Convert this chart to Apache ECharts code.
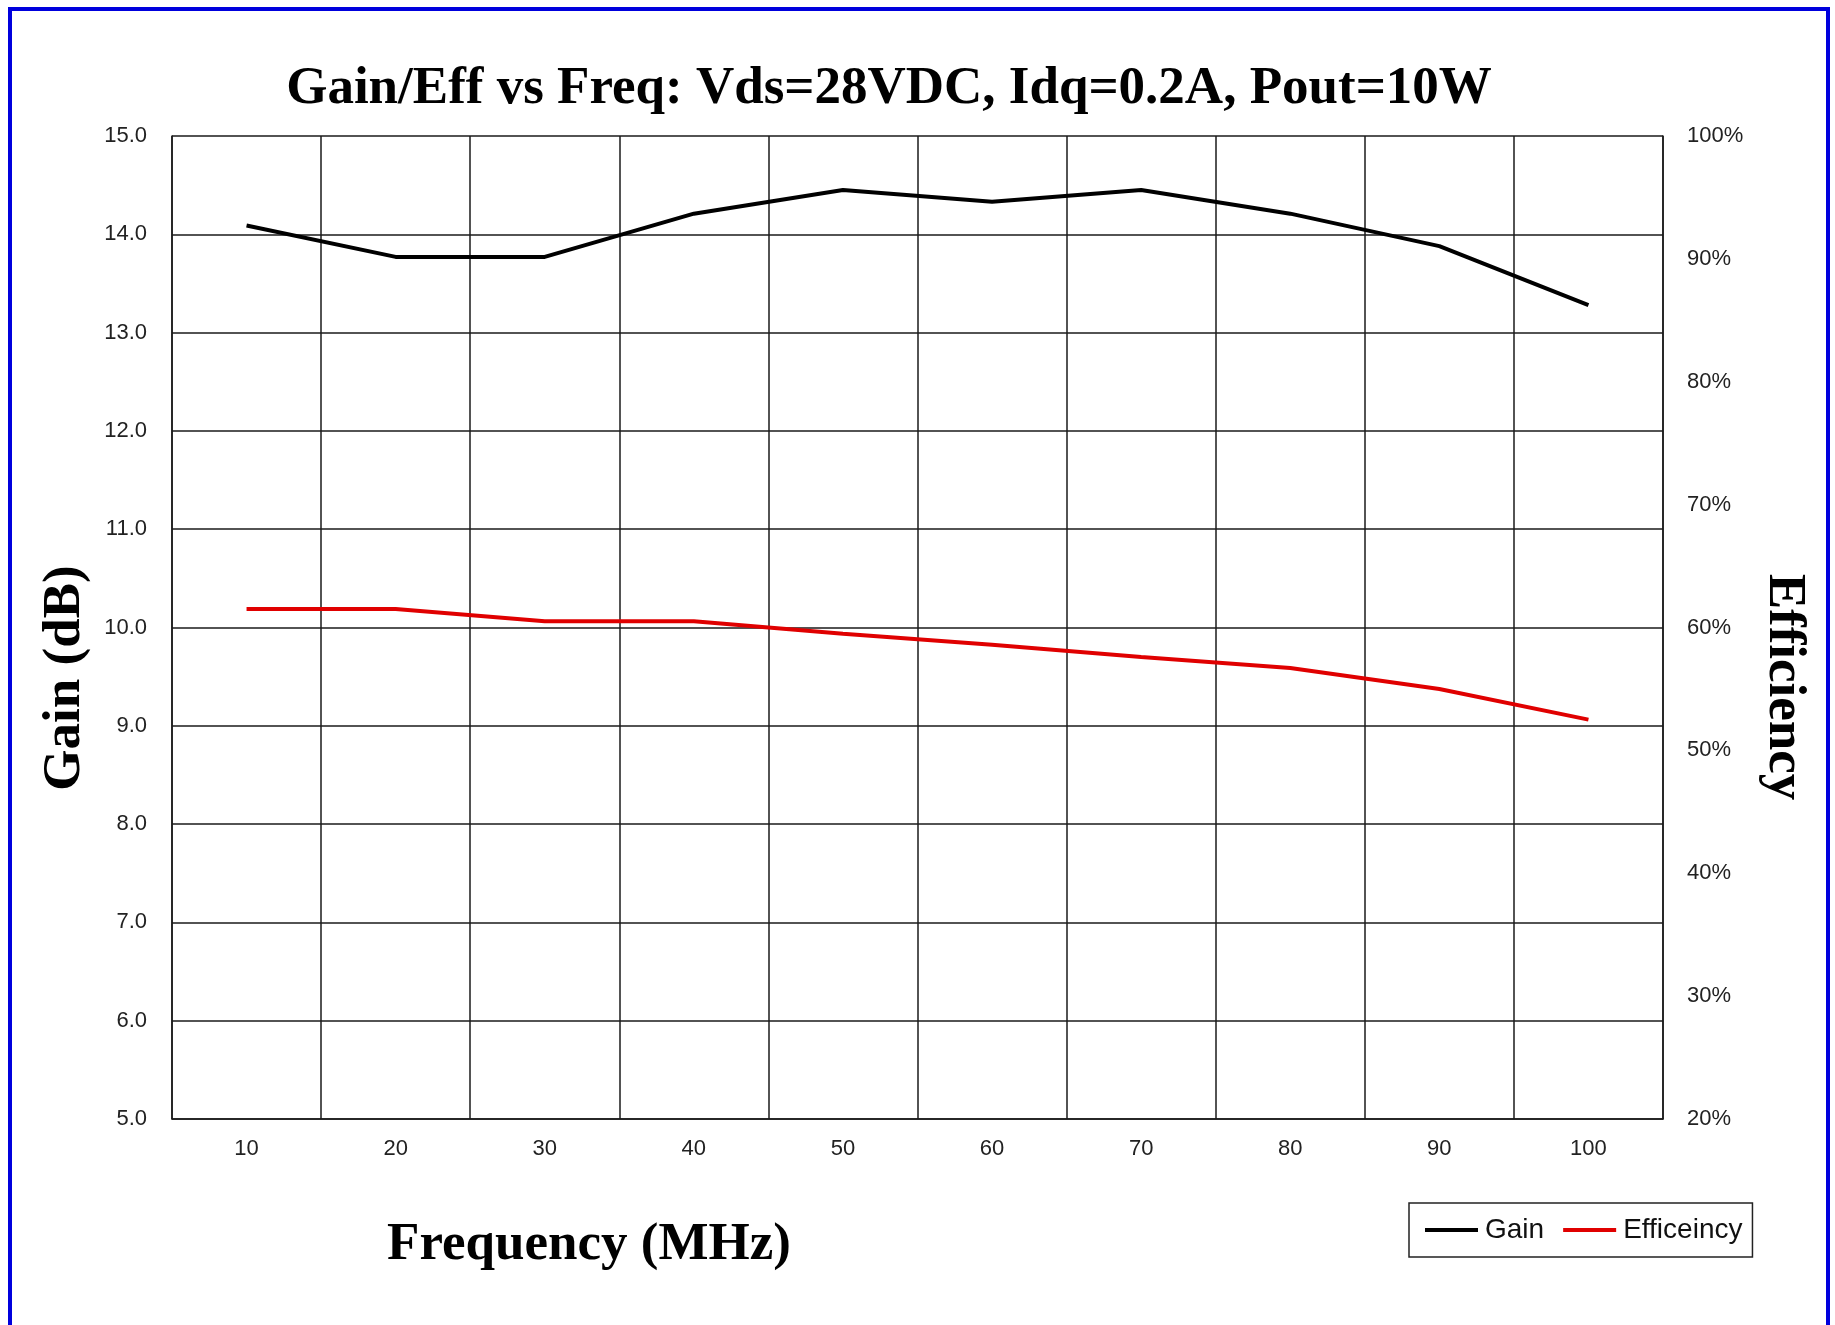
<!DOCTYPE html>
<html>
<head>
<meta charset="utf-8">
<script src="https://cdn.jsdelivr.net/npm/echarts@6/dist/echarts.min.js"></script>
<style>
html,body{margin:0;padding:0;background:#fff;}
#chart{width:1835px;height:1325px;}
</style>
</head>
<body>
<div id="chart"></div>
<script>
var frequencies = ['10','20','30','40','50','60','70','80','90','100'];
var gainDb = [14.09, 13.77, 13.77, 14.21, 14.45, 14.33, 14.45, 14.21, 13.88, 13.28];
var efficiencyPct = [61.5, 61.5, 60.5, 60.5, 59.5, 58.6, 57.6, 56.7, 55.0, 52.5];
var titleText = 'Gain/Eff vs Freq: Vds=28VDC, Idq=0.2A, Pout=10W';
var xName = 'Frequency (MHz)';
var yLeftName = 'Gain (dB)';
var yRightName = 'Efficiency';
var seriesNames = ['Gain', 'Efficeincy'];

var chart = echarts.init(document.getElementById('chart'), null, {renderer:'canvas'});
var gridColor = '#1a1a1a';
var labelFont = {fontFamily:'"Liberation Sans", Arial, sans-serif', fontSize:22, color:'#222'};
var serifBold = 'bold 53px "Liberation Serif", "Times New Roman", serif';

chart.setOption({
  animation:false,
  backgroundColor:'#fff',
  grid:{left:172, right:172, top:136, bottom:206, containLabel:false},
  xAxis:{
    type:'category', data:frequencies, boundaryGap:true,
    axisLine:{show:true, lineStyle:{color:gridColor, width:1.5}},
    axisTick:{show:false},
    axisLabel:Object.assign({margin:19}, labelFont),
    splitLine:{show:true, lineStyle:{color:gridColor, width:1.5}}
  },
  yAxis:[{
    type:'value', min:5, max:15, interval:1, position:'left',
    axisLine:{show:true, lineStyle:{color:gridColor, width:1.5}},
    axisTick:{show:false},
    axisLabel:Object.assign({margin:25, formatter:function(v){return v.toFixed(1);}}, labelFont),
    splitLine:{show:true, lineStyle:{color:gridColor, width:1.5}}
  },{
    type:'value', min:20, max:100, interval:10, position:'right',
    axisLine:{show:true, lineStyle:{color:gridColor, width:1.5}},
    axisTick:{show:false},
    axisLabel:Object.assign({margin:24, formatter:'{value}%'}, labelFont),
    splitLine:{show:false}
  }],
  legend:{
    left:1409, top:1203, orient:'horizontal',
    padding:[13,10,13,16],
    itemGap:19, itemWidth:53, itemHeight:4,
    icon:'rect',
    borderColor:'#222', borderWidth:1.5,
    textStyle:{fontFamily:'"Liberation Sans", Arial, sans-serif', fontSize:28, color:'#111', padding:[0,0,0,2]},
    data:seriesNames
  },
  series:[{
    name:seriesNames[0], type:'line', data:gainDb, yAxisIndex:0,
    showSymbol:false, symbol:'none',
    lineStyle:{color:'#000', width:4}, itemStyle:{color:'#000'}
  },{
    name:seriesNames[1], type:'line', data:efficiencyPct, yAxisIndex:1,
    showSymbol:false, symbol:'none',
    lineStyle:{color:'#e00000', width:4}, itemStyle:{color:'#e00000'}
  }],
  graphic:[
    {type:'rect', silent:true, z:100, shape:{x:10, y:9, width:1818, height:1340},
     style:{fill:'none', stroke:'#0000dd', lineWidth:4}},
    {type:'text', x:889, y:89, style:{text:titleText, font:serifBold, fill:'#000', textAlign:'center', textVerticalAlign:'middle'}},
    {type:'text', x:589, y:1245, style:{text:xName, font:serifBold, fill:'#000', textAlign:'center', textVerticalAlign:'middle'}},
    {type:'text', x:65, y:678, rotation:Math.PI/2, style:{text:yLeftName, font:serifBold, fill:'#000', textAlign:'center', textVerticalAlign:'middle'}},
    {type:'text', x:1784, y:687, rotation:-Math.PI/2, style:{text:yRightName, font:serifBold, fill:'#000', textAlign:'center', textVerticalAlign:'middle'}}
  ]
});
</script>
</body>
</html>
